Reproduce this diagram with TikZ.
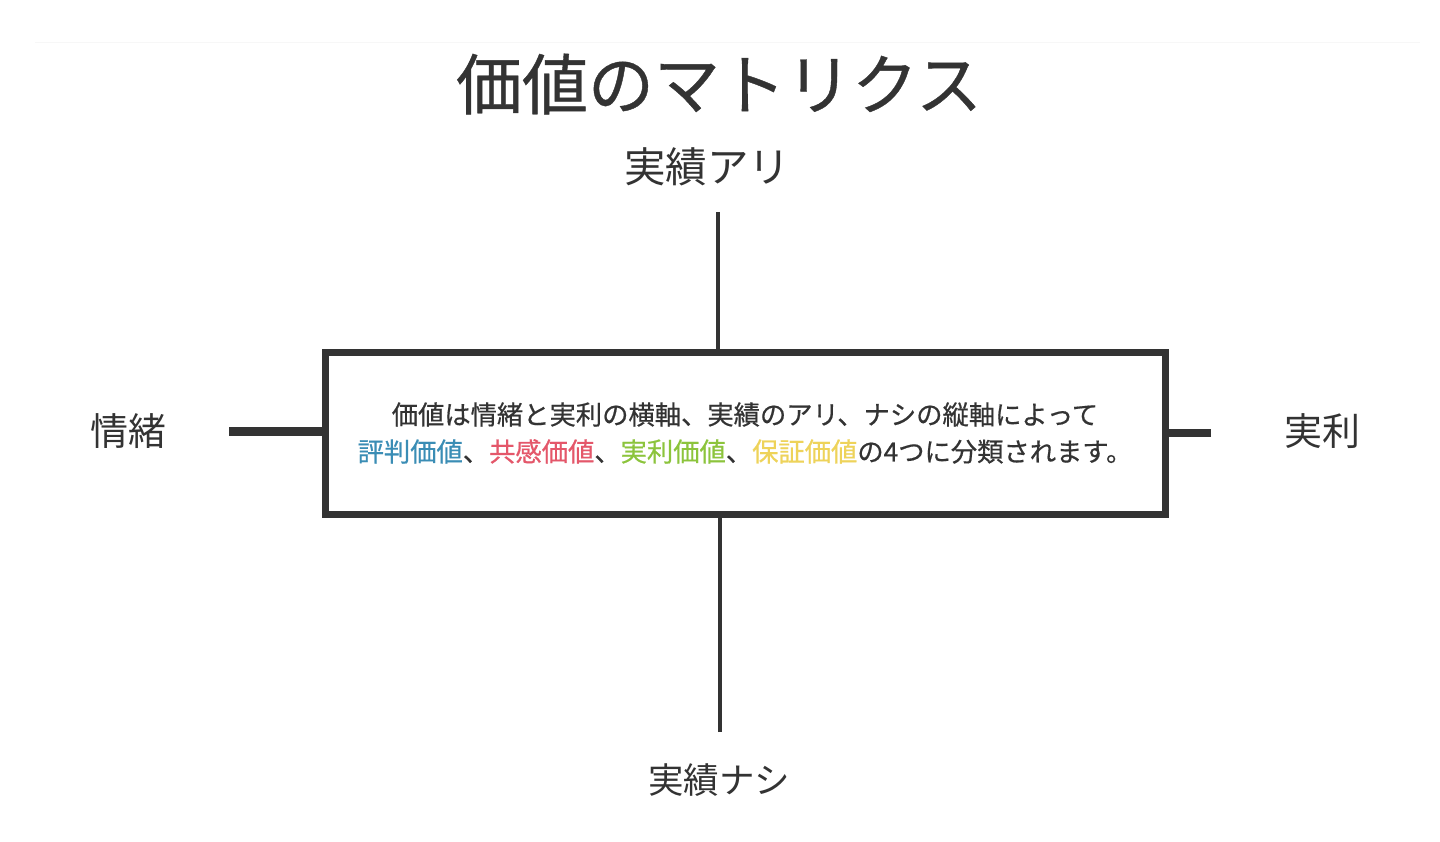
\documentclass[tikz,border=0pt]{standalone}
\usepackage{fontspec}
\usepackage{xcolor}
\usepackage{tikz}
\setmainfont{Noto Sans CJK JP}
\newfontfamily\heavyjp[FakeBold=0.6]{Noto Sans CJK JP}
\definecolor{inkgray}{HTML}{333333}
\definecolor{hyoban}{HTML}{3A8DB5}
\definecolor{kyokan}{HTML}{E4576A}
\definecolor{jitsuri}{HTML}{8CC43C}
\definecolor{hosho}{HTML}{EED35A}

\begin{document}
\begin{tikzpicture}[x=1pt, y=-1pt,
  axis/.style={draw=inkgray, line width=5pt},
  label/.style={font=\fontsize{38}{44}\selectfont, text=inkgray}]
\useasboundingbox (0,0) rectangle (1440,842);
% --- frame line at the top ---
\draw[gray!6, line width=1pt] (35,43) -- (1420,43);
% --- title ---
\node[font=\heavyjp\fontsize{66}{72}\selectfont, text=inkgray] (title) at (719,84) {価値のマトリクス};
% --- axis labels ---
\node[label, font=\fontsize{41.5}{46}\selectfont] (ari) at (707,167) {実績アリ};
\node[label, font=\fontsize{35.5}{42}\selectfont] (nashi) at (719,780) {実績ナシ};
\node[label] (jocho) at (128,431) {情緒};
\node[label] (jitsu) at (1322,431) {実利};
% --- centre box ---
\node[draw=inkgray, line width=7pt, fill=white, minimum width=840pt, minimum height=162pt,
  align=center, font=\heavyjp\fontsize{26.3}{37}\selectfont, text=inkgray] (matrix) at (745,433)
  {価値は情緒と実利の横軸、実績のアリ、ナシの縦軸によって\\
   \textcolor{hyoban}{評判価値}、\textcolor{kyokan}{共感価値}、\textcolor{jitsuri}{実利価値}、\textcolor{hosho}{保証価値}の4つに分類されます。};
% --- axes ---
\coordinate (topend) at (718,212);
\coordinate (botend) at (720,732);
\coordinate (leftend) at (229,431);
\coordinate (rightend) at (1211,433);
\draw[axis, line width=4pt] (topend) -- (topend |- matrix.north);
\draw[axis, line width=4pt] (botend) -- (botend |- matrix.south);
\draw[axis, line width=9pt] (leftend) -- (leftend -| matrix.west);
\draw[axis, line width=8pt] (rightend) -- (rightend -| matrix.east);
\end{tikzpicture}
\end{document}
